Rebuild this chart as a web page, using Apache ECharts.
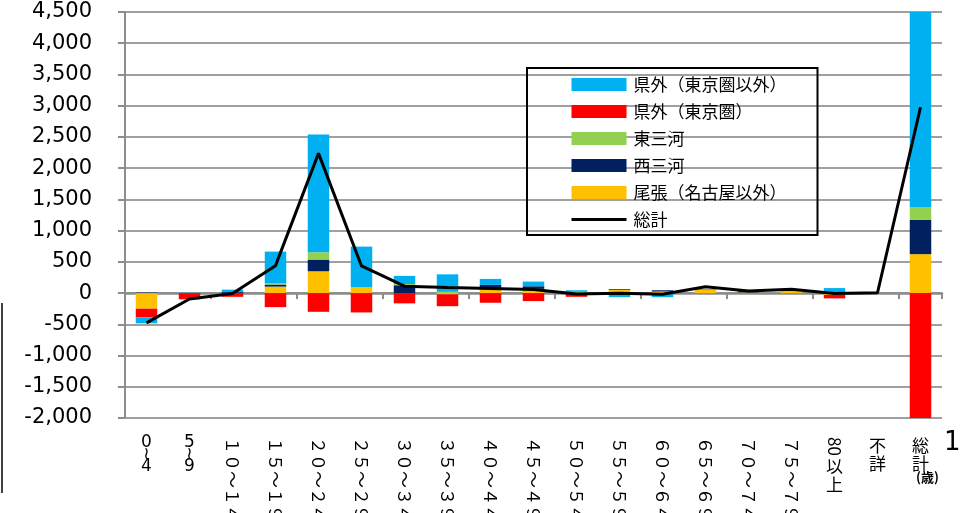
<!DOCTYPE html>
<html lang="ja">
<head>
<meta charset="utf-8">
<title>年齢別転出入超過数</title>
<script src="https://cdn.jsdelivr.net/npm/echarts@6/dist/echarts.min.js"></script>
<style>
  html, body { margin: 0; padding: 0; background: #fff; }
  #chart { width: 967px; height: 513px; }
</style>
</head>
<body>
<div id="chart"></div>
<script>
// 年齢階級（5歳刻み）＋不詳・総計
const categories = ['0～4', '5～9', '10～14', '15～19', '20～24', '25～29', '30～34', '35～39',
  '40～44', '45～49', '50～54', '55～59', '60～64', '65～69', '70～74', '75～79', '80以上', '不詳', '総計'];

// 転出入先別の超過数（人）
const owari     = [-250,    0,   0, 104,  349,   93,    0,  -20,   67,   67,   0,  50,  25,  60, 10, 45, -30, 0,   623];
const nishiMikawa = [  8,   0,  15,  32,  187,    0,  125,    0,   64,   42,   0,  12,  20,   5, 20, 10,   0, 0,   548];
const higashiMikawa = [ 0,  0,   0,  24,  117,    0,   20,   20,    0,    0,  20,   0,   0,   0,  0,  0,   0, 0,   208];
const tokyoArea = [-140, -100, -60, -225, -300, -310, -165, -190, -155, -128, -60,   0,   0,   0,  0,  0, -55, 0, -2020];
const otherPref = [ -95,    5,  40,  504, 1884,  651,  130,  280,   96,   75,  25, -65, -65,   0,  0,  0,  80, 0,  3600];
const total     = [-477,  -95,  -5,  439, 2237,  434,  110,   90,   72,   56, -15,  -3, -20, 100, 35, 60,  -5, 5,  2975];

// 縦軸の目盛
const yMin = -2000, yMax = 4500, yStep = 500;

const seriesNames = {
  other: '県外（東京圏以外）',
  tokyo: '県外（東京圏）',
  higashi: '東三河',
  nishi: '西三河',
  owari: '尾張（名古屋以外）',
  total: '総計'
};

const colors = {
  other: '#00B0F0',
  tokyo: '#FF0000',
  higashi: '#92D050',
  nishi: '#002060',
  owari: '#FFC000',
  total: '#000000'
};

const JP = '"Noto Sans CJK JP", "Noto Sans", sans-serif';
const NUM = '"DejaVu Sans", sans-serif';
const gridGray = '#A0A0A0';
const axisGray = '#8C8C8C';

// 縦書き表示用に数字を全角へ
function toWide(s) {
  return s.replace(/[0-9]/g, c => String.fromCharCode(c.charCodeAt(0) + 0xFEE0));
}

// 縦書きの軸ラベル（正立部分）
function uprightLabel(v) {
  if (v === '0～4' || v === '5～9') {
    const p = v.split('～');
    return '{d|' + p[0] + '}\n{d|≀}\n{d|' + p[1] + '}';
  }
  if (v === '80以上') return '{gap| }\n{j|以}\n{j|上}';
  if (v === '不詳' || v === '総計') return '{j|' + v[0] + '}\n{j|' + v[1] + '}';
  return '';
}

// 縦書きの軸ラベル（横倒し部分）
function rotatedLabel(v) {
  if (v === '0～4' || v === '5～9' || v === '不詳' || v === '総計') return '';
  if (v === '80以上') return '80';
  return toWide(v);
}

function bar(key, data) {
  return {
    name: seriesNames[key],
    type: 'bar',
    stack: 'dest',
    barWidth: '50%',
    data: data,
    itemStyle: { color: colors[key] },
    emphasis: { disabled: true }
  };
}

const chart = echarts.init(document.getElementById('chart'), null, { renderer: 'canvas' });

chart.setOption({
  animation: false,
  backgroundColor: '#ffffff',
  grid: { left: 125, right: 25, top: 12, bottom: 95, outerBoundsMode: 'none', containLabel: false },
  legend: {
    orient: 'vertical',
    left: 527,
    top: 68,
    padding: [8, 31, 7, 43],
    itemWidth: 55,
    itemHeight: 13,
    itemGap: 10,
    borderColor: '#000',
    borderWidth: 2,
    selectedMode: false,
    textStyle: { fontSize: 17, fontFamily: JP, color: '#000', padding: [0, 0, 0, 2] },
    data: [
      { name: seriesNames.other, icon: 'rect' },
      { name: seriesNames.tokyo, icon: 'rect' },
      { name: seriesNames.higashi, icon: 'rect' },
      { name: seriesNames.nishi, icon: 'rect' },
      { name: seriesNames.owari, icon: 'rect' },
      { name: seriesNames.total, itemStyle: { opacity: 0 }, lineStyle: { width: 3, color: '#000' } }
    ]
  },
  xAxis: [
    {
      type: 'category',
      data: categories,
      axisLine: { onZero: true, lineStyle: { color: axisGray, width: 2.5 } },
      axisTick: { show: true, length: 6, lineStyle: { color: axisGray, width: 2 } },
      axisLabel: { show: false },
      splitLine: { show: false }
    },
    {
      type: 'category',
      data: categories,
      position: 'bottom',
      axisLine: { show: false, onZero: false },
      axisTick: { show: false },
      axisLabel: {
        margin: 19,
        interval: 0,
        verticalAlign: 'top',
        formatter: uprightLabel,
        rich: {
          d: { fontSize: 17, lineHeight: 12, fontFamily: NUM, color: '#000', align: 'center' },
          j: { fontSize: 17, lineHeight: 18, fontFamily: JP, color: '#000', align: 'center' },
          gap: { fontSize: 10, lineHeight: 21 }
        }
      }
    },
    {
      type: 'category',
      data: categories,
      position: 'bottom',
      axisLine: { show: false, onZero: false },
      axisTick: { show: false },
      axisLabel: {
        margin: 19,
        interval: 0,
        rotate: -90,
        fontSize: 17,
        fontFamily: JP,
        color: '#000',
        formatter: rotatedLabel
      }
    }
  ],
  yAxis: {
    type: 'value',
    min: yMin,
    max: yMax,
    interval: yStep,
    axisLine: { show: true, lineStyle: { color: axisGray, width: 2 } },
    axisTick: { show: true, length: 7, lineStyle: { color: axisGray, width: 2 } },
    splitLine: { lineStyle: { color: gridGray, width: 2 } },
    axisLabel: {
      margin: 33,
      fontSize: 21,
      fontFamily: NUM,
      color: '#000',
      formatter: v => v.toLocaleString('en-US')
    }
  },
  series: [
    bar('owari', owari),
    bar('nishi', nishiMikawa),
    bar('higashi', higashiMikawa),
    bar('tokyo', tokyoArea),
    bar('other', otherPref),
    {
      name: seriesNames.total,
      type: 'line',
      data: total,
      symbol: 'none',
      z: 5,
      lineStyle: { color: colors.total, width: 3 },
      itemStyle: { color: colors.total },
      emphasis: { disabled: true }
    }
  ],
  graphic: [
    {
      type: 'line',
      shape: { x1: 2, y1: 303, x2: 2, y2: 493 },
      style: { stroke: '#000', lineWidth: 1.5 }
    },
    {
      type: 'text',
      left: 916,
      top: 471,
      style: { text: '(歳)', fontSize: 13, fontWeight: 'bold', fontFamily: JP, fill: '#000' }
    },
    {
      type: 'text',
      left: 944,
      top: 430,
      style: { text: '1', fontSize: 26, fontFamily: NUM, fill: '#000' }
    }
  ]
});
</script>
</body>
</html>
